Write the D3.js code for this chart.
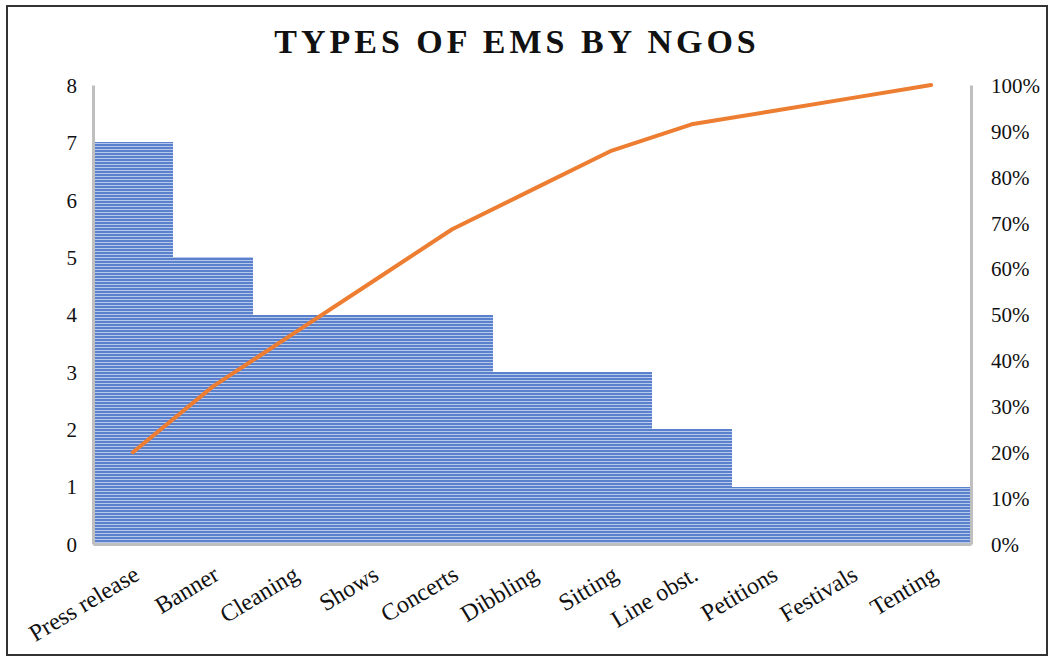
<!DOCTYPE html>
<html>
<head>
<meta charset="utf-8">
<script src="https://cdn.jsdelivr.net/npm/d3@7"></script>
<style>
  html, body { margin: 0; padding: 0; background: #fff; }
  svg { display: block; }
  text { font-family: "Liberation Serif", "Times New Roman", serif; fill: #111; }
</style>
</head>
<body>
<svg id="chart" width="1049" height="658"></svg>
<script>
// Types of environmental-management strategies used by NGOs (counts, sorted)
const categories = ["Press release", "Banner", "Cleaning", "Shows", "Concerts", "Dibbling",
                    "Sitting", "Line obst.", "Petitions", "Festivals", "Tenting"];
const counts = [7, 5, 4, 4, 4, 3, 3, 2, 1, 1, 1];
const leftTicks = [0, 1, 2, 3, 4, 5, 6, 7, 8];
const rightTicks = [0, 0.1, 0.2, 0.3, 0.4, 0.5, 0.6, 0.7, 0.8, 0.9, 1.0];

// cumulative share for the Pareto line
const total = d3.sum(counts);
const cumulative = d3.cumsum(counts).map(v => v / total);

const svg = d3.select("#chart");
const W = 1049, H = 658;
const plot = { left: 93, right: 971, top: 85, bottom: 544 };

// outer frame
svg.append("rect")
  .attr("x", 7).attr("y", 6).attr("width", W - 9).attr("height", H - 9)
  .attr("fill", "#fff").attr("stroke", "#333").attr("stroke-width", 2);

// striped fill for the bars
const defs = svg.append("defs");
const pat = defs.append("pattern")
  .attr("id", "stripes").attr("patternUnits", "userSpaceOnUse")
  .attr("width", 8).attr("height", 3);
pat.append("rect").attr("width", 8).attr("height", 3).attr("fill", "#5b80cc");
pat.append("rect").attr("y", 2).attr("width", 8).attr("height", 1).attr("fill", "#b6c9ec");

const x = d3.scaleBand().domain(categories).range([plot.left, plot.right]).padding(0);
const y = d3.scaleLinear().domain([0, 8]).range([plot.bottom, plot.top]);
const y2 = d3.scaleLinear().domain([0, 1]).range([plot.bottom, plot.top]);

// bars
svg.append("g").attr("shape-rendering", "crispEdges").selectAll("rect")
  .data(categories)
  .join("rect")
  .attr("x", d => Math.floor(x(d)))
  .attr("y", (d, i) => y(counts[i]))
  .attr("width", d => Math.ceil(x(d) + x.bandwidth()) - Math.floor(x(d)))
  .attr("height", (d, i) => y(0) - y(counts[i]))
  .attr("fill", "url(#stripes)");

// axes
const axisColor = "#bfbfbf";
const axisLeft = d3.axisLeft(y).tickValues(leftTicks).tickSize(0).tickPadding(16).tickFormat(d3.format("d"));
const axisRight = d3.axisRight(y2).tickValues(rightTicks).tickSize(0).tickPadding(20).tickFormat(d3.format(".0%"));
const axisBottom = d3.axisBottom(x).tickSize(0).tickFormat("");

const gl = svg.append("g").attr("transform", `translate(${plot.left},0)`).call(axisLeft);
const gr = svg.append("g").attr("transform", `translate(${plot.right},0)`).call(axisRight);
const gb = svg.append("g").attr("transform", `translate(0,${plot.bottom})`).call(axisBottom);

[gl, gr, gb].forEach(g => {
  g.select(".domain").attr("stroke", axisColor).attr("stroke-width", 3);
  g.selectAll("text")
    .style("font-family", "'Liberation Serif', 'Times New Roman', serif")
    .style("font-size", "21px").attr("fill", "#111");
});
gl.selectAll(".tick text").attr("dy", "0.35em");
gr.selectAll(".tick text").attr("dy", "0.35em");

// rotated category labels
svg.append("g").selectAll("text")
  .data(categories)
  .join("text")
  .attr("transform", d => `translate(${x(d) + x.bandwidth() / 2 - 1},${plot.bottom + 20}) rotate(-31)`)
  .attr("text-anchor", "end")
  .attr("dy", "0.72em")
  .style("font-size", "24px")
  .text(d => d);

// cumulative percentage line
const line = d3.line()
  .x((d, i) => x(categories[i]) + x.bandwidth() / 2)
  .y(d => y2(d));
svg.append("path")
  .datum(cumulative)
  .attr("d", line)
  .attr("fill", "none")
  .attr("stroke", "#ed7d31")
  .attr("stroke-width", 4)
  .attr("stroke-linejoin", "round")
  .attr("stroke-linecap", "round");

// title
svg.append("text")
  .attr("x", 517).attr("y", 53)
  .attr("text-anchor", "middle")
  .style("font-size", "34px")
  .style("font-weight", "bold")
  .style("letter-spacing", "4px")
  .text("TYPES OF EMS BY NGOS");
</script>
</body>
</html>
